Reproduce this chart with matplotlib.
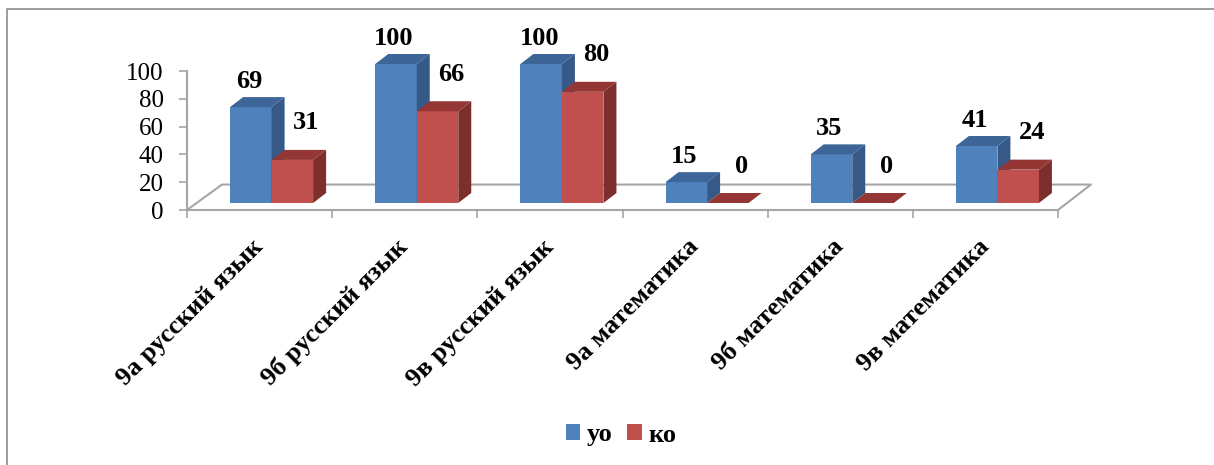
import matplotlib
matplotlib.use("Agg")
import matplotlib.pyplot as plt
import matplotlib.transforms as mtransforms
from matplotlib.patches import Polygon, Patch
from matplotlib.lines import Line2D
import numpy as np

categories = ["9а русский язык", "9б русский язык", "9в русский язык",
              "9а математика", "9б математика", "9в математика"]
uo = [69, 100, 100, 15, 35, 41]
ko = [31, 66, 80, 0, 0, 24]
series_names = ["уо", "ко"]

plt.rcParams['font.family'] = ['Liberation Serif', 'DejaVu Serif']

W, H = 1214, 465
fig = plt.figure(figsize=(W / 100, H / 100), dpi=100)
ax = fig.add_axes([187 / W, (H - 210) / H, (1058 - 187) / W, (210 - 71) / H])
ax.set_xlim(-0.5, len(categories) - 0.5)
ax.set_ylim(0, 100)

grey = "#a6a6a6"
for s in ["top", "right"]:
    ax.spines[s].set_visible(False)
for s in ["left", "bottom"]:
    ax.spines[s].set_color(grey)
    ax.spines[s].set_linewidth(1.5)

# y axis
ax.set_yticks(range(0, 101, 20))
ax.tick_params(axis="y", length=5.8, width=1.2, color=grey, pad=11, labelsize=18)

# x axis: tick marks on category boundaries, labels at centres
x = np.arange(len(categories))
ax.set_xticks(x)
ax.set_xticklabels(categories, rotation=45, ha="right", fontsize=19, fontweight="bold")
ax.tick_params(axis="x", which="major", length=0, pad=18)
lbl_shift = mtransforms.ScaledTranslation(8 / 100, 0, fig.dpi_scale_trans)
for lbl in ax.get_xticklabels():
    lbl.set_transform(lbl.get_transform() + lbl_shift)
ax.set_xticks(np.arange(-0.5, len(categories)), minor=True)
ax.tick_params(axis="x", which="minor", length=5.8, width=1.2, color=grey)

# floor outline (back edges)
floor_dx_l, floor_dx_r, floor_dy = 0.241, 0.227, 18.3
ax.add_line(Line2D([-0.5, -0.5 + floor_dx_l, 5.5 + floor_dx_r, 5.5],
                   [0, floor_dy, floor_dy, 0], color=grey, lw=1.5,
                   clip_on=False, zorder=1))

# bars with fake depth
shift = ax.transData + mtransforms.ScaledTranslation(12 / 100, 7 / 100, fig.dpi_scale_trans)
w = 0.286
dx, dy = 13 / 145.2, 10 / 1.39
colors = [("#4f81bd", "#365987", "#3e6597"), ("#c0504d", "#7d2f2d", "#933634")]
label_off = [(-1.4, 18.7), (10, 26.6)]

for k, vals in enumerate([uo, ko]):
    front, side, top = colors[k]
    xs = x - w + k * w
    bars = ax.bar(xs, vals, w, align="edge", color=front, transform=shift,
                  zorder=3, clip_on=False)
    for b, v in zip(bars, vals):
        x0 = b.get_x()
        x1 = x0 + w
        ax.add_patch(Polygon([(x1, 0), (x1 + dx, dy), (x1 + dx, v + dy), (x1, v)],
                             closed=True, facecolor=side, edgecolor="none",
                             transform=shift, zorder=3, clip_on=False))
        ax.add_patch(Polygon([(x0, v), (x1, v), (x1 + dx, v + dy), (x0 + dx, v + dy)],
                             closed=True, facecolor=top, edgecolor="none",
                             transform=shift, zorder=3, clip_on=False))
        ax.annotate(str(v), xy=(x0 + w / 2, v), xycoords=shift,
                    xytext=label_off[k], textcoords="offset points",
                    ha="center", va="center", fontsize=19, fontweight="bold",
                    annotation_clip=False, zorder=4)

handles = [Patch(facecolor=colors[0][0]), Patch(facecolor=colors[1][0])]
fig.legend(handles, series_names, loc="center", bbox_to_anchor=(621 / W, 1 - 435 / H),
           ncol=2, frameon=False, prop={"size": 19, "weight": "bold"},
           handlelength=0.55, handleheight=0.55, handletextpad=0.25, columnspacing=0.55)

# chart border
fig.add_artist(Line2D([7 / W, 7 / W, 1], [0, 1 - 9 / H, 1 - 9 / H],
                      color="#8c8c8c", lw=1.2, transform=fig.transFigure))

fig.savefig("out.png", dpi=100)
